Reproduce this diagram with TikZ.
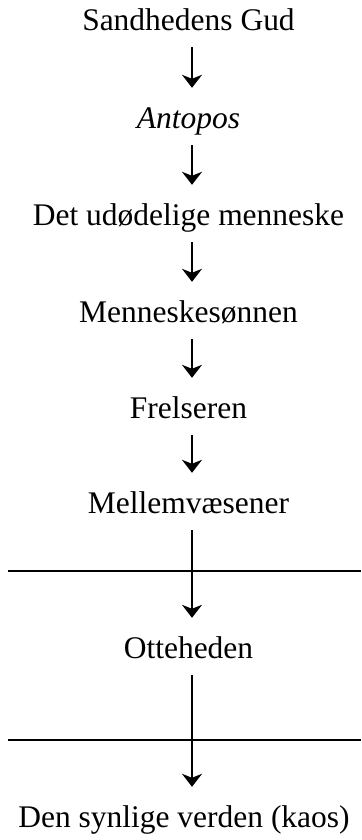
\documentclass[tikz,border=0pt]{standalone}
\usepackage{fontspec}
\setmainfont{Liberation Serif}
\usetikzlibrary{arrows.meta}
\begin{document}
\begin{tikzpicture}[x=1bp,y=-1bp,
  level/.style={font=\fontsize{31.6}{36}\selectfont, inner sep=0pt,
    text height=22bp, text depth=7bp, anchor=base},
  flow/.style={line width=2bp, -{Stealth[length=13bp,width=20bp,inset=4bp]},
    shorten <=10bp, shorten >=18bp},
  divider/.style={line width=1.9bp}]
  \useasboundingbox (0,0) rectangle (361,840);
  % column of levels, top to bottom
  \node[level] (gud)   at (188.5,30)  {Sandhedens Gud};
  \node[level] (antr)  at (188.5,128) {\itshape Antopos};
  \node[level] (udod)  at (188.5,225) {Det udødelige menneske};
  \node[level] (son)   at (188.5,322) {Menneskesønnen};
  \node[level] (frel)  at (188.5,418) {Frelseren};
  \node[level] (mell)  at (188.5,513) {Mellemvæsener};
  \node[level] (otte)  at (188.5,658) {Otteheden};
  \node[level] (kaos)  at (184,827)   {Den synlige verden (kaos)};
  % axis of the arrows
  \coordinate (ax) at (192,0);
  % horizontal boundaries
  \coordinate (b1l) at (8,571);   \coordinate (b1r) at (361,571);
  \coordinate (b2l) at (8,740);   \coordinate (b2r) at (361,740);
  \draw[divider] (b1l) -- (b1r);
  \draw[divider] (b2l) -- (b2r);
  % descending arrows
  \draw[flow] (gud.south -| ax)  -- (antr.north -| ax);
  \draw[flow] (antr.south -| ax) -- (udod.north -| ax);
  \draw[flow] (udod.south -| ax) -- (son.north -| ax);
  \draw[flow] (son.south -| ax)  -- (frel.north -| ax);
  \draw[flow] (frel.south -| ax) -- (mell.north -| ax);
  \draw[flow] (mell.south -| ax) -- (otte.north -| ax);
  \draw[flow] (otte.south -| ax) -- (kaos.north -| ax);
\end{tikzpicture}
\end{document}
